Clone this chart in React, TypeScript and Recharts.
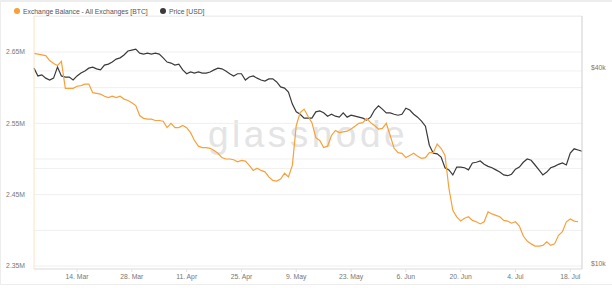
import React from 'react';
import { LineChart, Line, XAxis, YAxis, CartesianGrid, ReferenceLine } from 'recharts';

// daily points, first one is 3 Mar 2022
const startDate = Date.UTC(2022, 2, 3);
const DAY = 86400000;

// Exchange balance, millions of BTC
const balanceM: (number | null)[] = [
  2.648, 2.647, 2.646, 2.645, 2.638, 2.634, 2.631, 2.637, 2.599, 2.599,
  2.599, 2.602, 2.603, 2.605, 2.605, 2.593, 2.592, 2.591, 2.588, 2.586,
  2.588, 2.586, 2.588, 2.584, 2.582, 2.579, 2.575, 2.561, 2.557, 2.556,
  2.556, 2.554, 2.554, 2.553, 2.544, 2.55, 2.544, 2.544, 2.547, 2.544,
  2.537, 2.526, 2.518, 2.516, 2.516, 2.515, 2.512, 2.508, 2.502, 2.5,
  2.5, 2.499, 2.496, 2.498, 2.497, 2.491, 2.484, 2.487, 2.484, 2.482,
  2.475, 2.47, 2.469, 2.472, 2.48, 2.475, 2.491, 2.547, 2.565, 2.57,
  2.56, 2.551, 2.53, 2.526, 2.516, 2.518, 2.533, 2.54, 2.537, 2.538,
  2.539, 2.542, 2.546, 2.55, 2.551, 2.557, 2.551, 2.547, 2.542, 2.543,
  2.55, 2.533, 2.515, 2.509, 2.508, 2.502, 2.505, 2.508, 2.504, 2.501,
  2.502, 2.509, 2.509, 2.521, 2.515, 2.505, 2.459, 2.428, 2.419, 2.413,
  2.417, 2.419, 2.414, 2.412, 2.409, 2.412, 2.426, 2.423, 2.421, 2.419,
  2.414, 2.413, 2.41, 2.412, 2.406, 2.392, 2.385, 2.381, 2.378, 2.378,
  2.379, 2.384, 2.379, 2.381, 2.393, 2.398, 2.412, 2.416, 2.413, 2.412,
  null,
];

// BTC price, USD
const priceUsd = [
  40800, 38600, 38900, 38000, 37500, 38000, 41100, 38600, 38300, 38300,
  37500, 38600, 39400, 40000, 40800, 41100, 40600, 40300, 41700, 42000,
  42600, 43500, 43900, 44800, 46100, 46400, 46700, 45400, 45100, 45400,
  45100, 45400, 45100, 43900, 42600, 42300, 41700, 42000, 40300, 39200,
  39700, 39400, 39700, 39400, 39400, 39700, 40300, 40800, 40600, 40000,
  39200, 38600, 39200, 39200, 37500, 38300, 38600, 38000, 37500, 37200,
  37800, 37800, 37000, 35700, 35400, 34400, 31600, 29900, 29400, 28600,
  28600, 28600, 29900, 30100, 29700, 29000, 29400, 29000, 28800, 29700,
  28800, 29200, 29000, 28800, 28600, 28200, 28800, 30300, 31200, 30500,
  29700, 29700, 29400, 29200, 29400, 30700, 30300, 29400, 28800, 28000,
  27000, 23600, 22300, 22200, 21700, 20100, 19800, 19100, 20200, 20200,
  20100, 19800, 20800, 20900, 21100, 20600, 20300, 20100, 19800, 19500,
  19100, 19000, 19200, 19900, 20200, 20900, 21400, 21200, 20500, 19800,
  19100, 19500, 20100, 20300, 20600, 20800, 20500, 22300, 23000, 22800,
  22600,
];

const xTickDates = [
  '2022-03-14', '2022-03-28', '2022-04-11', '2022-04-25', '2022-05-09',
  '2022-05-23', '2022-06-06', '2022-06-20', '2022-07-04', '2022-07-18',
];
const balanceTicks = [2.35, 2.4, 2.45, 2.5, 2.55, 2.6, 2.65, 2.7];
const balanceLabels = ['2.35M', '', '2.45M', '', '2.55M', '', '2.65M', ''];
const priceTicks = [10000, 40000];
const priceLabels = ['$10k', '$40k'];
const priceGridLines = [20000, 40000];

const MONTHS = ['Jan', 'Feb', 'Mar', 'Apr', 'May', 'Jun', 'Jul', 'Aug', 'Sep', 'Oct', 'Nov', 'Dec'];

const data = priceUsd.map((p, i) => ({
  t: startDate + i * DAY,
  balance: balanceM[i],
  price: p,
}));
const xTicks = xTickDates.map((d) => Date.parse(d + 'T00:00:00Z'));

const FONT = '"Liberation Sans", Arial, sans-serif';
const ORANGE = '#f8a03a';
const DARK = '#3a3a3a';

const fmtDate = (v: number) => {
  const d = new Date(v);
  return `${d.getUTCDate()}. ${MONTHS[d.getUTCMonth()]}`;
};

const PriceTick = (props: any) => {
  const { x, y, payload } = props;
  const label = priceLabels[priceTicks.indexOf(payload.value)];
  return (
    <text x={x} y={y - 3} textAnchor="start" dominantBaseline="central" fontSize={6.8} fill="#777" fontFamily={FONT}>
      {label}
    </text>
  );
};

const LegendItem = ({ color, label, left }: { color: string; label: string; left: number }) => (
  <div style={{ position: 'absolute', left, top: 6, display: 'flex', alignItems: 'center', height: 10 }}>
    <span style={{ width: 6, height: 6, borderRadius: 3, background: color, display: 'inline-block', marginRight: 3 }} />
    <span style={{ fontSize: 6.8, color: '#555', fontFamily: FONT, whiteSpace: 'nowrap' }}>{label}</span>
  </div>
);

export default function App() {
  return (
    <div style={{ position: 'absolute', left: 0, top: 0, width: 612, height: 288, background: '#fff', overflow: 'hidden' }}>
      <div
        style={{
          position: 'absolute', left: 0, top: 0, width: 612, height: 285, boxSizing: 'border-box',
          borderTop: '2px solid #ededed', borderLeft: '1px solid #ededed', borderBottom: '1px solid #ededed',
        }}
      />
      {/* watermark sits behind the lines */}
      <svg width={612} height={288} style={{ position: 'absolute', left: 0, top: 0 }}>
        <text x={308} y={147} textAnchor="middle" fontSize={37} letterSpacing={3.5} fill="#e4e4e4" fontFamily={FONT}>
          glassnode
        </text>
      </svg>
      <div style={{ position: 'absolute', left: 0, top: 0 }}>
        <LineChart width={612} height={288} data={data} margin={{ top: 16, right: 0, bottom: 0, left: 0 }}>
          <CartesianGrid yAxisId="balance" vertical={false} stroke="#efefef" />
          <XAxis
            dataKey="t"
            type="number"
            domain={[data[0].t, data[data.length - 1].t]}
            ticks={xTicks}
            tickFormatter={fmtDate}
            interval={0}
            height={19}
            tickSize={3}
            tickMargin={2}
            stroke="#e3e3e3"
            tick={{ fontSize: 6.8, fill: '#777', fontFamily: FONT }}
          />
          <YAxis
            yAxisId="balance"
            width={34}
            domain={[2.3458, 2.7005]}
            ticks={balanceTicks}
            interval={0}
            allowDataOverflow
            tickFormatter={(v: number) => balanceLabels[balanceTicks.indexOf(v)]}
            tickLine={false}
            tickSize={6}
            tickMargin={3}
            axisLine={{ stroke: '#fde3c8' }}
            tick={{ fontSize: 6.8, fill: '#777', fontFamily: FONT }}
          />
          <YAxis
            yAxisId="price"
            orientation="right"
            width={30}
            scale="log"
            domain={[9790, 59100]}
            ticks={priceTicks}
            interval={0}
            allowDataOverflow
            tickLine={false}
            tickSize={6}
            tickMargin={3}
            axisLine={{ stroke: '#cfcfcf' }}
            tick={<PriceTick />}
          />
          {priceGridLines.map((v) => (
            <ReferenceLine key={v} yAxisId="price" y={v} stroke="#f1f1f1" />
          ))}
          <Line
            yAxisId="price"
            type="linear"
            dataKey="price"
            stroke={DARK}
            strokeWidth={1.2}
            dot={false}
            isAnimationActive={false}
          />
          <Line
            yAxisId="balance"
            type="linear"
            dataKey="balance"
            stroke={ORANGE}
            strokeWidth={1.2}
            dot={false}
            connectNulls={false}
            isAnimationActive={false}
          />
        </LineChart>
      </div>
      <LegendItem color={ORANGE} label="Exchange Balance - All Exchanges [BTC]" left={14} />
      <LegendItem color={DARK} label="Price [USD]" left={160} />
    </div>
  );
}
